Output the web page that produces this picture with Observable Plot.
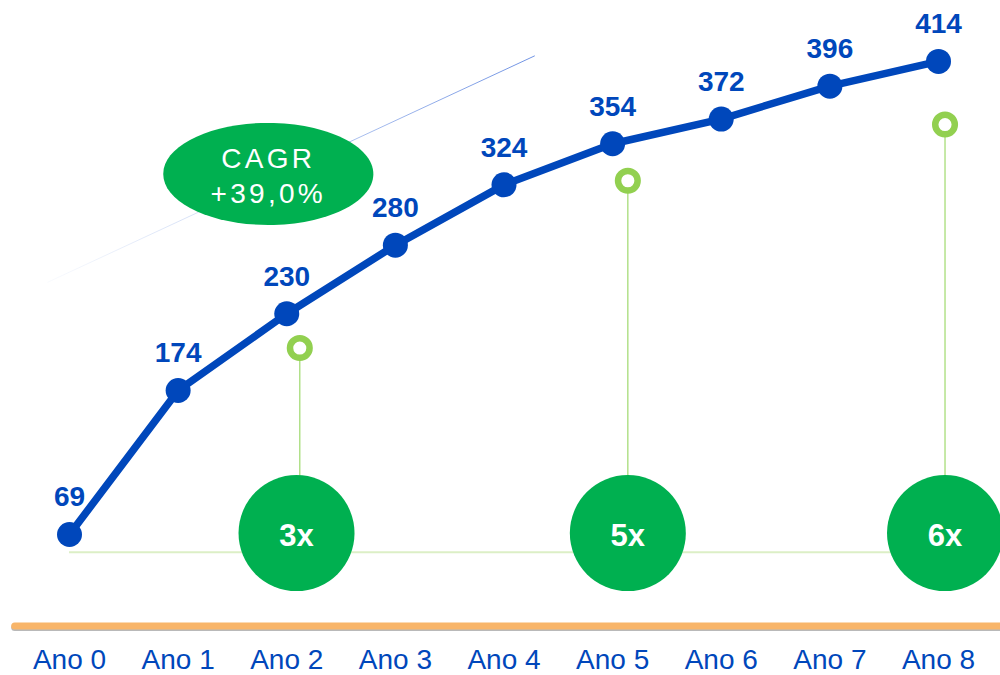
<!DOCTYPE html>
<html><head><meta charset="utf-8">
<script src="https://cdn.jsdelivr.net/npm/d3@7"></script>
<script src="https://cdn.jsdelivr.net/npm/@observablehq/plot@0.6"></script>
<style>body{margin:0;background:#fff;overflow:hidden}</style>
</head><body><div id="chart"></div>
<script>
// ---- data ----
const years = [0, 1, 2, 3, 4, 5, 6, 7, 8];
const tickLabels = ["Ano 0", "Ano 1", "Ano 2", "Ano 3", "Ano 4", "Ano 5", "Ano 6", "Ano 7", "Ano 8"];
const values = [69, 174, 230, 280, 324, 354, 372, 396, 414];
const multLabels = ["3x", "5x", "6x"];
const multX = [2.09, 5.14, 8.06];
const multY = [70, 70, 70];
const ringX = [2.12, 5.14, 8.06];
const ringY = [205, 327, 368];
const cagrLabel = ["CAGR\n+39,0%"];
const cagrX = [1.83];
const cagrY = [332];
const trendX = [-0.2, 4.28];
const trendY = [253, 418];
const baseLineY = [56];
const axisLineY = [0];

const BLUE = "#0047bb", GREEN = "#00b050", LIGHTGREEN = "#92d050", ORANGE = "#f8b569";
const FONT = "'Liberation Sans', Arial, sans-serif";

const series = years.map((x, i) => ({x, v: values[i]}));
const mults = multLabels.map((t, i) => ({t, x: multX[i], y: multY[i], rx: ringX[i], ry: ringY[i]}));
const trend = trendX.map((x, i) => ({x, y: trendY[i]}));

// ellipse symbol (wider than tall)
const ellipse = {
  draw(ctx, size) {
    const r = Math.sqrt(size / Math.PI), rx = r * 2.06, ry = r, k = 0.5523;
    ctx.moveTo(-rx, 0);
    ctx.bezierCurveTo(-rx, -ry * k, -rx * k, -ry, 0, -ry);
    ctx.bezierCurveTo(rx * k, -ry, rx, -ry * k, rx, 0);
    ctx.bezierCurveTo(rx, ry * k, rx * k, ry, 0, ry);
    ctx.bezierCurveTo(-rx * k, ry, -rx, ry * k, -rx, 0);
    ctx.closePath();
  }
};

const plot = Plot.plot({
  width: 1000, height: 675,
  marginLeft: 0, marginRight: 0, marginTop: 11.6, marginBottom: 46.4,
  x: {domain: [0, 8], range: [69, 938]},
  y: {domain: [0, 450], axis: null},
  style: {fontFamily: FONT, background: "white", overflow: "visible"},
  marks: [
    // faint trend line
    Plot.line(trend, {x: "x", y: "y", stroke: "url(#trendGrad)", strokeWidth: 1}),
    // light green baseline
    Plot.ruleY(baseLineY, {x1: 0, x2: 8.6, stroke: "#dcefc6", strokeWidth: 2}),
    // orange axis line with faint shadow
    Plot.ruleY(axisLineY, {x1: -0.5, x2: 8.6, dy: -1.5, stroke: "#b9b9b9", strokeWidth: 7, strokeLinecap: "round"}),
    Plot.ruleY(axisLineY, {x1: -0.5, x2: 8.6, dy: -3, stroke: ORANGE, strokeWidth: 7, strokeLinecap: "round"}),
    // connectors
    Plot.ruleX(mults, {x: "rx", y1: "ry", y2: "y", stroke: "#a6dc78", strokeWidth: 1.3}),
    // big circles
    Plot.dot(mults, {x: "x", y: "y", r: 58, fill: GREEN}),
    Plot.text(mults, {x: "x", y: "y", text: "t", dy: 3, fill: "white", fontSize: 31, fontWeight: "bold"}),
    // rings
    Plot.dot(mults, {x: "rx", y: "ry", r: 9.8, fill: "white", stroke: LIGHTGREEN, strokeWidth: 6.5}),
    // CAGR ellipse
    Plot.dot(cagrLabel, {x: () => cagrX[0], y: () => cagrY[0], r: 51, symbol: ellipse, fill: GREEN}),
    Plot.text(cagrLabel, {x: () => cagrX[0], y: () => cagrY[0], text: d => d, fill: "white", fontSize: 28, lineHeight: 1.25}),
    // main line
    Plot.line(series, {x: "x", y: "v", stroke: BLUE, strokeWidth: 7.5}),
    Plot.dot(series, {x: "x", y: "v", r: 12.5, fill: BLUE}),
    Plot.text(series, {x: "x", y: "v", text: "v", dy: -37, fill: BLUE, fontSize: 28, fontWeight: "bold"}),
    // x axis labels
    Plot.axisX(years, {tickFormat: i => tickLabels[i], tickSize: 0, tickPadding: 20, fontSize: 28, color: BLUE, fill: BLUE, label: null})
  ]
});

// gradient for the faint trend line
const defs = d3.select(plot).insert("defs", ":first-child");
const g = defs.append("linearGradient").attr("id", "trendGrad").attr("x1", "0%").attr("x2", "100%").attr("y1", "0%").attr("y2", "0%");
g.append("stop").attr("offset", "0%").attr("stop-color", "#8aa8e6").attr("stop-opacity", 0.05);
g.append("stop").attr("offset", "100%").attr("stop-color", "#5f86e0").attr("stop-opacity", 0.9);

// wide letter spacing for the CAGR label
d3.select(plot).selectAll("g[aria-label='text']")
  .filter(function() { return this.textContent.includes("CAGR"); })
  .style("letter-spacing", "3.3px");

document.getElementById("chart").appendChild(plot);
</script>
</body></html>
